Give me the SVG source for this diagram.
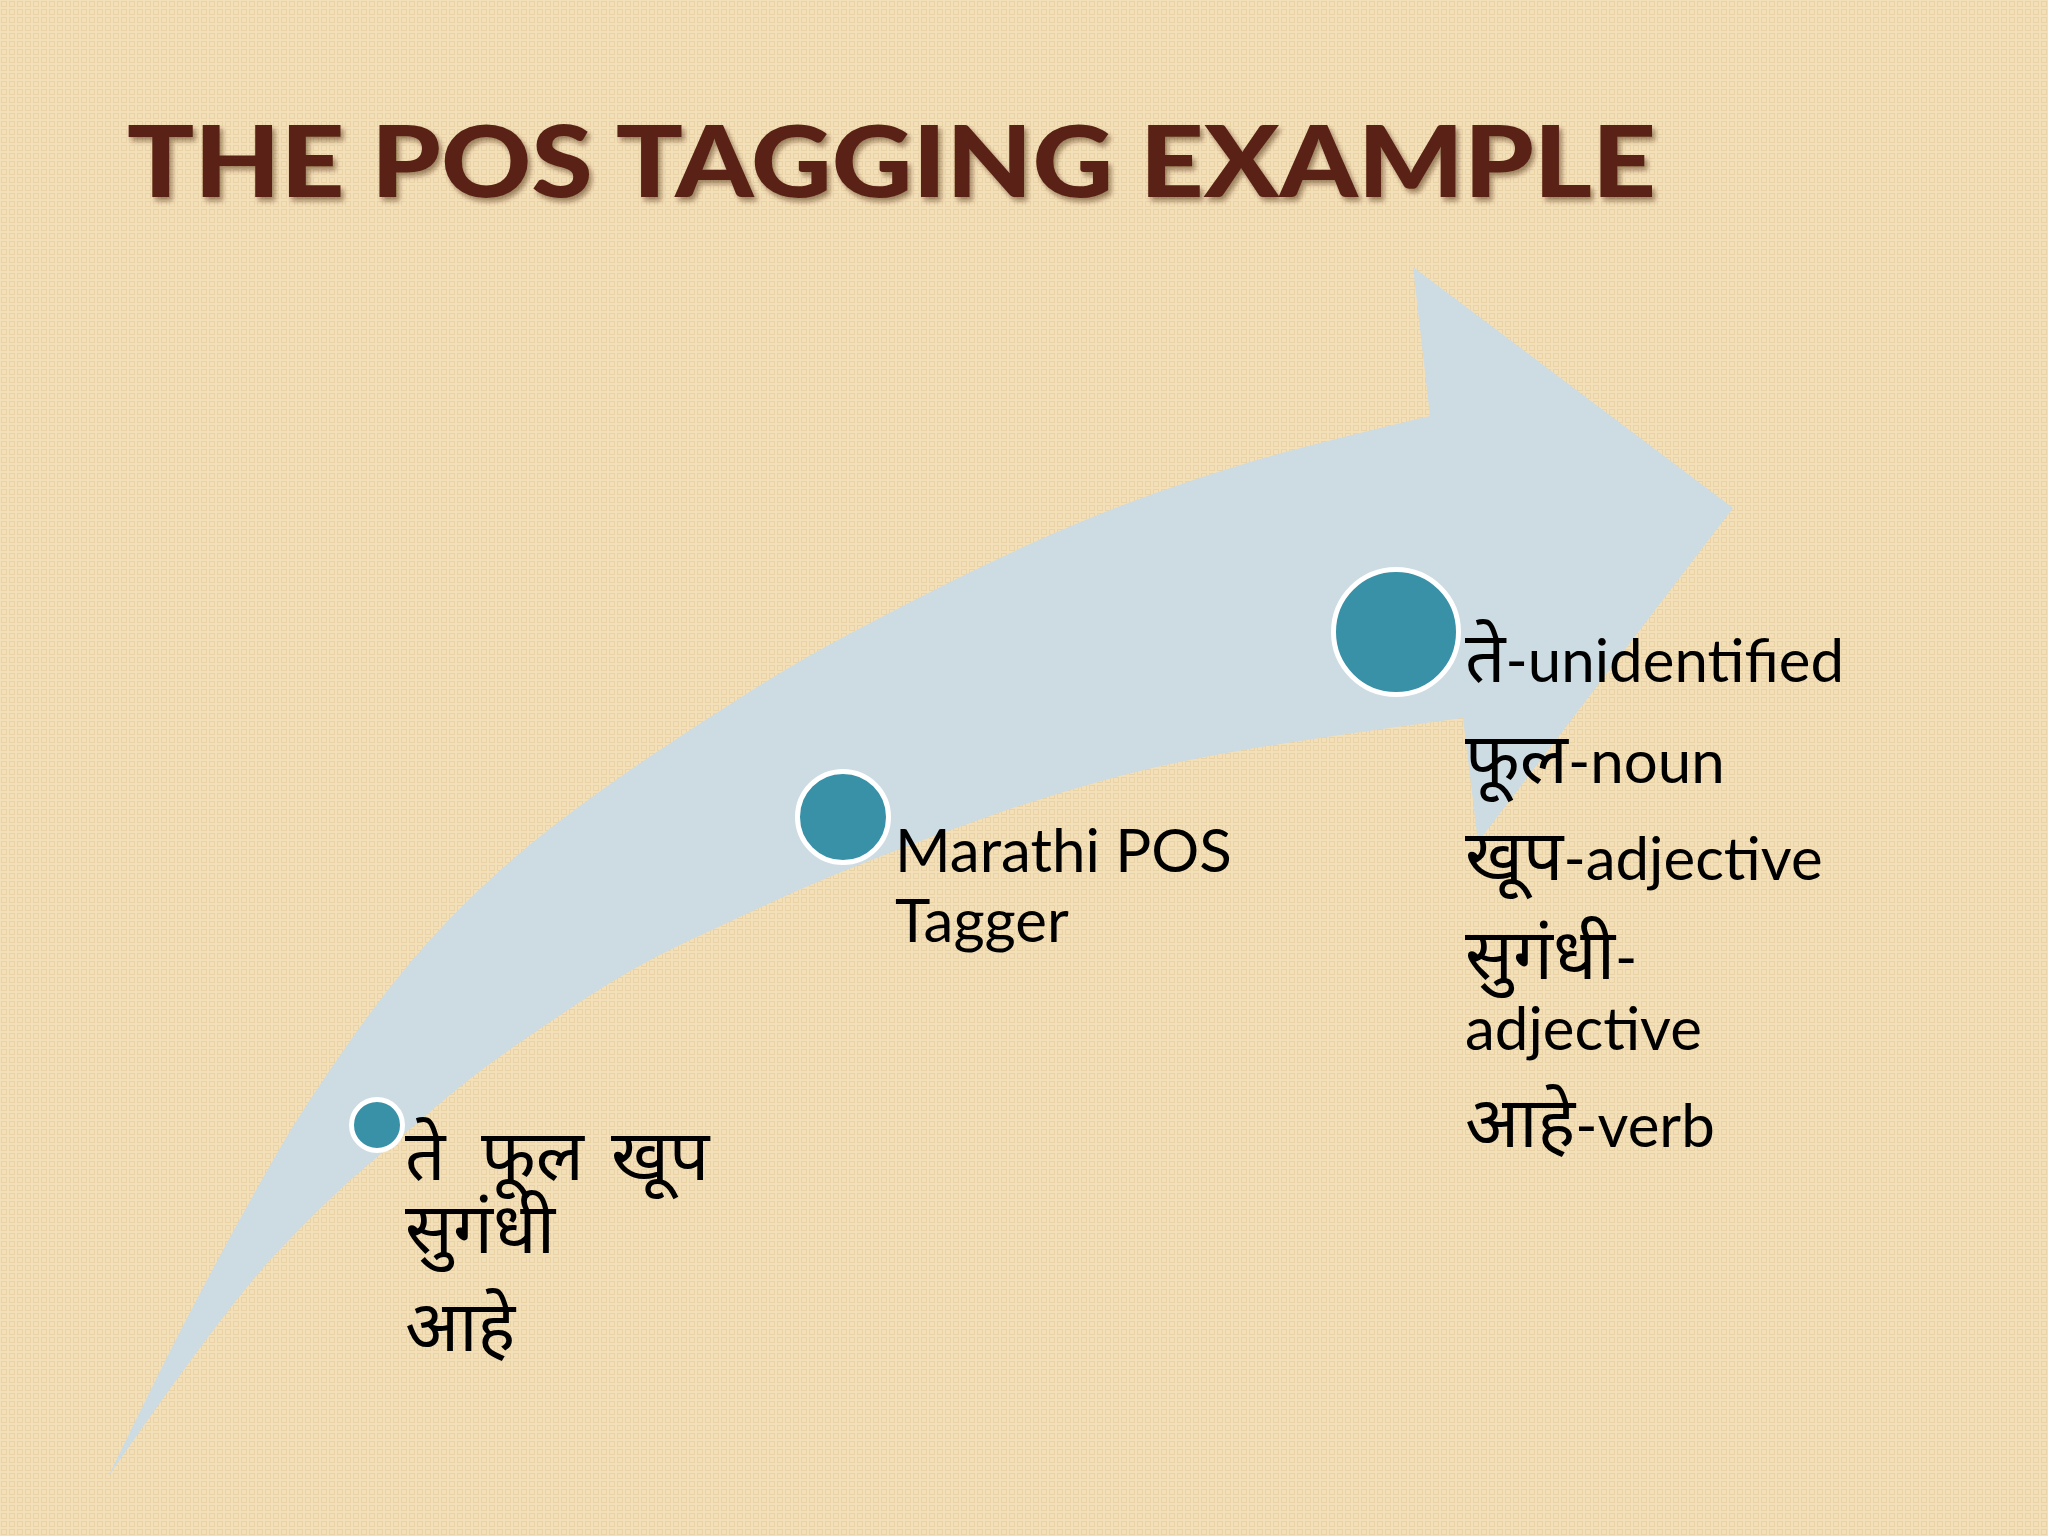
<svg xmlns="http://www.w3.org/2000/svg" width="2048" height="1536" viewBox="0 0 2048 1536">
<defs>
<pattern id="bgp" width="8" height="8" patternUnits="userSpaceOnUse">
<rect width="8" height="8" fill="#f4e0b8"/>
<rect x="1.5" y="1.5" width="5" height="5" fill="none" stroke="#e9d2a5" stroke-width="1"/>
</pattern>
<filter id="tshadow" x="-5%" y="-20%" width="110%" height="150%">
<feDropShadow dx="3" dy="4" stdDeviation="2.5" flood-color="#3a1a0e" flood-opacity="0.45"/>
</filter>
<style>
.title{font-family:Lato,"Liberation Sans",sans-serif;font-weight:900;font-size:100px;fill:#5a2414}
.lbl{font-family:Lato,"Noto Sans Devanagari","Noto Sans",sans-serif;font-size:60px;fill:#000}
.dv{font-size:71px}
.dot{fill:#3891a7;stroke:#ffffff;stroke-width:5}
</style>
</defs>
<rect width="2048" height="1536" fill="url(#bgp)"/>
<text class="title" x="127" y="197" textLength="1529" lengthAdjust="spacingAndGlyphs" filter="url(#tshadow)">THE POS TAGGING EXAMPLE</text>
<g id="connectors">
<path id="arrow" fill="#cddbe3" d="M108,1477 Q160,1370 186,1320 Q212,1270 235,1228 Q258,1186 281.5,1145.5 Q305,1105 352.5,1037.5 Q400,970 450,918.5 Q500,867 550,828.5 Q600,790 650,756.5 Q700,723 750,691.5 Q800,660 850,633.5 Q900,607 950,582 Q1000,557 1050,535 Q1100,513 1150,495 Q1200,477 1250,462 Q1300,447 1430,416 L1413,267 L1733,508 L1478,842 L1463,718 Q1320,737 1243.5,750 Q1167,763 1108.5,779 Q1050,795 992.5,815 Q935,835 877.5,857.5 Q820,880 776.5,900 Q733,920 683,943.5 Q633,967 583,1000 Q533,1033 500,1056.5 Q467,1080 435,1107.5 Q403,1135 366.5,1166 Q330,1197 278.5,1251 Q227,1305 108,1477 Z"/>
</g>
<g id="node-input">
<circle class="dot" cx="377" cy="1125" r="25.5"/>
<text class="lbl dv"><tspan x="405" y="1180">ते</tspan><tspan x="481" y="1180">फूल</tspan><tspan x="611" y="1180">खूप</tspan><tspan x="405" y="1253">सुगंधी</tspan><tspan x="405" y="1351">आहे</tspan></text>
</g>
<g id="node-tagger">
<circle class="dot" cx="843" cy="817" r="45.5"/>
<text class="lbl"><tspan x="895" y="872">Marathi POS</tspan><tspan x="895" y="942">Tagger</tspan></text>
</g>
<g id="node-output">
<circle class="dot" cx="1396" cy="632" r="62.5"/>
<text class="lbl" x="1465" y="682"><tspan class="dv">ते</tspan>-unidentified</text>
<text class="lbl" x="1465" y="783"><tspan class="dv">फूल</tspan>-noun</text>
<text class="lbl" x="1465" y="880"><tspan class="dv">खूप</tspan>-adjective</text>
<text class="lbl"><tspan x="1465" y="979"><tspan class="dv">सुगंधी</tspan>-</tspan><tspan x="1465" y="1050">adjective</tspan></text>
<text class="lbl" x="1465" y="1147"><tspan class="dv">आहे</tspan>-verb</text>
</g>
</svg>
